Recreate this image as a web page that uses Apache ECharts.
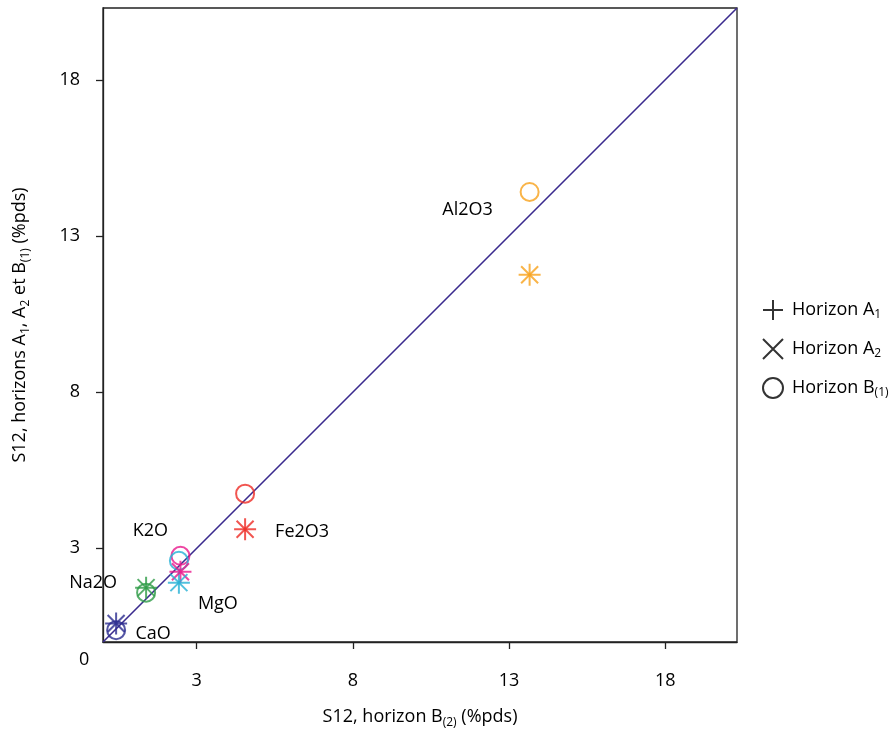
<!DOCTYPE html>
<html>
<head>
<meta charset="utf-8">
<script src="https://cdn.jsdelivr.net/npm/echarts@6/dist/echarts.min.js"></script>
<style>
html,body{margin:0;padding:0;background:#fff;}
#chart{width:894px;height:729px;}
</style>
</head>
<body>
<div id="chart"></div>
<script>
// ---- data ----
var elements = ['Al2O3', 'Fe2O3', 'K2O', 'MgO', 'Na2O', 'CaO'];
var horizonB2 = [13.66, 4.55, 2.48, 2.43, 1.38, 0.42];   // x axis
var horizonA1 = [11.76, 3.61, 2.25, 1.90, 1.74, 0.59];
var horizonA2 = [11.76, 3.61, 2.25, 1.90, 1.74, 0.59];
var horizonB1 = [14.41, 4.75, 2.76, 2.60, 1.58, 0.38];
var tickValues = [3, 8, 13, 18];
var axisMax = 20.3;
var oneToOne = [[0, 0], [20.3, 20.3]];

// ---- style ----
var colors = ['#F7A11A', '#EE2A24', '#E8188C', '#26B0D4', '#2E9B46', '#2B2C8F'];
var labelOffsets = [[-62, 18], [57, 38], [-30, -25], [39, 43], [-53, -10], [37, 4]];
var FONT = 'Open Sans';
var TXT = '#000';
var plusPath = 'path://M10,0L10,20M0,10L20,10';
var crossPath = 'path://M0,0L20,20M20,0L0,20';

function pts(ys) {
  return elements.map(function (n, i) {
    return {
      name: n,
      value: [horizonB2[i], ys[i]],
      itemStyle: { borderColor: colors[i] }
    };
  });
}

var subRich = {
  t: { fontSize: 18, fontFamily: FONT, color: TXT, lineHeight: 24 },
  s: { fontSize: 12, fontFamily: FONT, color: TXT, lineHeight: 24, verticalAlign: 'bottom', padding: [9, 0, 0, 0] }
};
var legendRich = {
  t: { fontSize: 18, fontFamily: FONT, color: TXT, lineHeight: 22 },
  s: { fontSize: 12, fontFamily: FONT, color: TXT, lineHeight: 22, verticalAlign: 'bottom', padding: [8, 0, 0, 0] }
};

var chart = echarts.init(document.getElementById('chart'), null, { renderer: 'canvas' });
chart.setOption({
  animation: false,
  backgroundColor: '#fff',
  textStyle: { fontFamily: FONT },
  grid: { left: 103, top: 8, width: 634, height: 634, outerBoundsMode: 'none', containLabel: false,
          show: true, borderColor: '#222', borderWidth: 1.3, backgroundColor: 'transparent' },
  xAxis: {
    type: 'value', min: 0, max: axisMax,
    name: '{t|S12, horizon B}{s|(2)}{t| (%pds)}',
    nameLocation: 'middle', nameGap: 63,
    nameTextStyle: { rich: subRich },
    axisLine: { show: true, lineStyle: { color: '#222', width: 1.3 } },
    axisTick: { show: true, customValues: tickValues, length: 7, lineStyle: { color: '#222', width: 1.3 } },
    axisLabel: { customValues: tickValues, margin: 30, fontSize: 18, color: TXT, fontFamily: FONT },
    splitLine: { show: false }
  },
  yAxis: {
    type: 'value', min: 0, max: axisMax,
    name: '{t|S12, horizons A}{s|1}{t|, A}{s|2}{t| et B}{s|(1)}{t| (%pds)}',
    nameLocation: 'middle', nameGap: 71,
    nameTextStyle: { rich: subRich },
    axisLine: { show: true, lineStyle: { color: '#222', width: 1.3 } },
    axisTick: { show: true, customValues: tickValues, length: 7, lineStyle: { color: '#222', width: 1.3 } },
    axisLabel: { customValues: tickValues, margin: 23, fontSize: 18, color: TXT, fontFamily: FONT },
    splitLine: { show: false }
  },
  legend: {
    orient: 'vertical', left: 757, top: 294, itemGap: 17, itemWidth: 20, itemHeight: 20,
    data: ['A1', 'A2', 'B1'],
    formatter: function (n) {
      if (n === 'A1') return '{t|Horizon A}{s|1}';
      if (n === 'A2') return '{t|Horizon A}{s|2}';
      return '{t|Horizon B}{s|(1)}';
    },
    textStyle: { rich: legendRich, padding: [0, 0, 0, 4] }
  },
  series: [
    {
      type: 'line', data: oneToOne, symbol: 'none', silent: true,
      lineStyle: { color: '#3A2A8E', width: 1.6 }, z: 1
    },
    {
      name: 'B1', type: 'scatter', symbol: 'circle', symbolSize: 18, z: 3,
      itemStyle: { color: 'transparent', borderColor: '#000', borderWidth: 2 },
      data: pts(horizonB1)
    },
    {
      name: 'A1', type: 'scatter', symbol: plusPath, symbolSize: 22, z: 3,
      itemStyle: { color: 'transparent', borderColor: '#000', borderWidth: 2 },
      data: pts(horizonA1)
    },
    {
      name: 'A2', type: 'scatter', symbol: crossPath, symbolSize: 17, z: 3,
      itemStyle: { color: 'transparent', borderColor: '#000', borderWidth: 2 },
      data: pts(horizonA2)
    }
  ]
});

// element name annotations, placed relative to each B(1) point
var graphics = [{
  type: 'text', left: 79, top: 651,
  style: { text: '0', fontSize: 18, fontFamily: FONT, fill: TXT }
}];
elements.forEach(function (n, i) {
  var p = chart.convertToPixel({ seriesIndex: 1 }, [horizonB2[i], horizonB1[i]]);
  graphics.push({
    type: 'text', x: p[0] + labelOffsets[i][0], y: p[1] + labelOffsets[i][1],
    style: { text: n, fontSize: 18, fontFamily: FONT, fill: TXT, align: 'center', verticalAlign: 'middle' }
  });
});
chart.setOption({ graphic: graphics });
</script>
</body>
</html>
